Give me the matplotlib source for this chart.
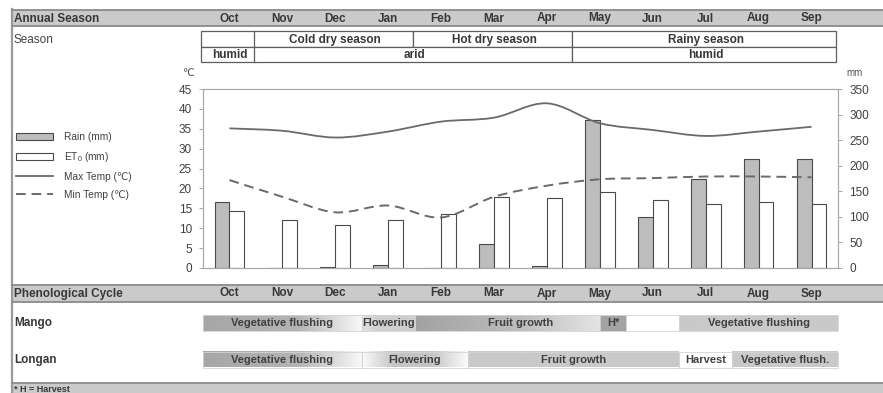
import numpy as np
import matplotlib
matplotlib.use('Agg')
import matplotlib.pyplot as plt
from matplotlib.patches import Rectangle, PathPatch, Patch
from matplotlib.path import Path
from matplotlib.lines import Line2D
from matplotlib.colors import LinearSegmentedColormap

plt.rcParams['font.family'] = ['Liberation Sans', 'DejaVu Sans']
plt.rcParams['mathtext.fontset'] = 'custom'
plt.rcParams['mathtext.rm'] = 'Liberation Sans'
plt.rcParams['mathtext.it'] = 'Liberation Sans:italic'

# data
months = ['Oct', 'Nov', 'Dec', 'Jan', 'Feb', 'Mar', 'Apr', 'May', 'Jun', 'Jul', 'Aug', 'Sep']
rain_mm = [130, 0.5, 2, 6, 0.5, 47, 4, 289, 100, 175, 214, 214]
et0_mm = [112, 94, 85, 94, 106, 139, 137, 149, 133, 126, 130, 125]
tmax = [35.1, 34.5, 32.8, 34.3, 36.8, 37.8, 41.4, 36.4, 34.7, 33.2, 34.3, 35.5]
tmin = [22.1, 17.9, 14.0, 15.7, 12.7, 17.9, 20.7, 22.3, 22.6, 23.0, 23.0, 22.8]

season_row1 = ['', 'Cold dry season', 'Hot dry season', 'Rainy season']
season_row1_edges = [0, 1, 4, 7, 12]
season_row2 = ['humid', 'arid', 'humid']
season_row2_edges = [0, 1, 7, 12]

# phenology phases, start/end in months counted from start of Oct
mango_labels = ['Vegetative flushing', 'Flowering', 'Fruit growth', 'H*', '', 'Vegetative flushing']
mango_start = [0, 3, 4, 7.5, 8, 9]
mango_end = [3, 4, 8, 8, 9, 12]
longan_labels = ['Vegetative flushing', 'Flowering', 'Fruit growth', 'Harvest', 'Vegetative flush.']
longan_start = [0, 3, 5, 9, 10]
longan_end = [3, 5, 9, 10, 12]

# ---- styles ----
W, H = 883, 393
PX = 635 / 12          # pixels per month
X0 = 203               # pixel of plot left edge
txt = '#383838'
band = '#cacaca'
band_edge = '#8a8a8a'

fills = {
    'fade': LinearSegmentedColormap.from_list('fade', [(0, '#a6a6a6'), (0.6, '#b4b4b4'), (1, '#f8f8f8')]),
    'fruit': LinearSegmentedColormap.from_list('fruit', [(0, '#a2a2a2'), (0.5, '#bdbdbd'), (1, '#f2f2f2')]),
    'flower_m': LinearSegmentedColormap.from_list('fm', [(0, '#e2e2e2'), (0.3, '#d0d0d0'), (1, '#cecece')]),
    'flower_l': LinearSegmentedColormap.from_list('fl', [(0, '#fbfbfb'), (0.3, '#c4c4c4'), (0.65, '#c4c4c4'), (1, '#fbfbfb')]),
    'harvest': LinearSegmentedColormap.from_list('h', ['#a3a3a3', '#a3a3a3']),
    'white': LinearSegmentedColormap.from_list('w', ['#ffffff', '#ffffff']),
    'flat': LinearSegmentedColormap.from_list('f', ['#c9c9c9', '#c9c9c9']),
}
mango_fill = ['fade', 'flower_m', 'fruit', 'harvest', 'white', 'flat']
longan_fill = ['fade', 'flower_l', 'flat', 'white', 'flat']


def smooth_path(xs, ys):
    pts = np.column_stack([xs, ys]).astype(float)
    p = np.vstack([pts[0], pts, pts[-1]])
    verts = [pts[0]]
    codes = [Path.MOVETO]
    for i in range(1, len(p) - 2):
        c1 = p[i] + (p[i + 1] - p[i - 1]) / 6
        c2 = p[i + 1] - (p[i + 2] - p[i]) / 6
        verts += [c1, c2, p[i + 1]]
        codes += [Path.CURVE4] * 3
    return Path(verts, codes)


fig = plt.figure(figsize=(W / 100, H / 100), dpi=100)

# background layer: x in months, y in pixels from the top
bg = fig.add_axes([0, 0, 1, 1])
bg.axis('off')
yx = bg.get_yaxis_transform()
fx = lambda px: px / W

# frame line on the left
bg.add_line(Line2D([fx(12), fx(12)], [9, 393], transform=yx, color='#9a9a9a', lw=1.6))

# gray bands
for y0, y1 in [(10, 26), (285, 301.5)]:
    bg.add_patch(Rectangle((fx(12), y0), 1, y1 - y0, transform=yx, fc=band, ec='none'))
    bg.add_line(Line2D([fx(12), 1], [y0, y0], transform=yx, color=band_edge, lw=1.3))
    bg.add_line(Line2D([fx(12), 1], [y1, y1], transform=yx, color=band_edge, lw=1.3))
bg.add_patch(Rectangle((fx(12), 383), 1, 10, transform=yx, fc=band, ec='none'))
bg.add_line(Line2D([fx(12), 1], [383, 383], transform=yx, color=band_edge, lw=1.3))

bg.text(fx(14), 18.5, 'Annual Season', transform=yx, fontsize=8.5, fontweight='bold', color=txt, va='center')
bg.text(fx(14), 293.5, 'Phenological Cycle', transform=yx, fontsize=8.5, fontweight='bold', color=txt, va='center')
bg.text(fx(14), 389, '* H = Harvest', transform=yx, fontsize=6.5, fontweight='bold', color=txt, va='center')
for i, m in enumerate(months):
    bg.text(i + 0.5, 18.5, m, fontsize=8.5, fontweight='bold', color=txt, ha='center', va='center')
    bg.text(i + 0.5, 293.5, m, fontsize=8.5, fontweight='bold', color=txt, ha='center', va='center')

# season table
bg.text(fx(14), 40, 'Season', transform=yx, fontsize=8.5, color='#444444', va='center')
tcol = '#5e5e5e'
for labels, edges, y0, y1 in [(season_row1, season_row1_edges, 31, 47), (season_row2, season_row2_edges, 47, 62)]:
    for lab, a, b in zip(labels, edges[:-1], edges[1:]):
        bg.add_patch(Rectangle((a - 0.03, y0), b - a + 0.03 if a == 0 else b - a, y1 - y0,
                               fc='white', ec=tcol, lw=0.9))
        bg.text((a + b) / 2, (y0 + y1) / 2 + 0.5, lab, fontsize=8.5, fontweight='bold',
                color=txt, ha='center', va='center')

bg.text(fx(188), 73, '℃', transform=yx, fontsize=7.5, color='#444444', ha='center', va='center')
bg.text(fx(855), 72.5, 'mm', transform=yx, fontsize=7, color='#555555', ha='center', va='center')

# phenology bars
grad = np.linspace(0, 1, 256)[None, :]
for name, labels, starts, ends, fl, y0, y1 in [
        ('Mango', mango_labels, mango_start, mango_end, mango_fill, 315, 331),
        ('Longan', longan_labels, longan_start, longan_end, longan_fill, 352, 367.5)]:
    bg.text(fx(14), (y0 + y1) / 2, name, transform=yx, fontsize=8.5, fontweight='bold', color=txt, va='center')
    for lab, a, b, f in zip(labels, starts, ends, fl):
        bg.imshow(grad, cmap=fills[f], extent=(a, b, y1, y0), aspect='auto', interpolation='bilinear')
        bg.add_patch(Rectangle((a, y0), b - a, y1 - y0, fill=False, ec='#d4d4d4', lw=0.6))
        if lab:
            bg.text((a + b) / 2, (y0 + y1) / 2 + 0.5, lab, fontsize=8, fontweight='bold',
                    color='#404040', ha='center', va='center')

bg.set_xlim(-X0 / PX, (W - X0) / PX)
bg.set_ylim(H, 0)

# main chart
ax = fig.add_axes([X0 / W, (H - 268) / H, 635 / W, 179 / H])
ax2 = ax.twinx()
x = np.arange(len(months)) + 0.5
bw = 0.28
ax2.bar(x - bw / 2, rain_mm, bw, color='#bdbdbd', edgecolor='#4a4a4a', linewidth=0.8)
ax2.bar(x + bw / 2, et0_mm, bw, color='white', edgecolor='#4a4a4a', linewidth=0.8)
ax2.set_ylim(0, 350)
ax2.set_yticks(range(0, 351, 50))

ax.add_patch(PathPatch(smooth_path(x, tmax), fill=False, ec='#6a6a6a', lw=1.3))
ax.add_patch(PathPatch(smooth_path(x, tmin), fill=False, ec='#6a6a6a', lw=1.4, ls=(0, (5, 3))))
ax.set_ylim(0, 45)
ax.set_yticks(range(0, 46, 5))
ax.set_xlim(0, 12)
ax.set_xticks([])
ax.set_zorder(ax2.get_zorder() + 1)
ax.patch.set_visible(False)

for a in (ax, ax2):
    for s in a.spines.values():
        s.set_color('#a8a8a8')
        s.set_linewidth(0.8)
    a.tick_params(axis='y', length=3, width=0.7, color='#a8a8a8', labelsize=8.5,
                  labelcolor='#404040', pad=5)

handles = [Patch(fc='#bdbdbd', ec='#4a4a4a', lw=0.8),
           Patch(fc='white', ec='#4a4a4a', lw=0.8),
           Line2D([], [], color='#6a6a6a', lw=1.3),
           Line2D([], [], color='#6a6a6a', lw=1.4, ls=(0, (5, 3)))]
fig.legend(handles, ['Rain (mm)', 'ET$_0$ (mm)', 'Max Temp (℃)', 'Min Temp (℃)'],
           loc='upper left', bbox_to_anchor=(16 / W, 1 - 132 / H), frameon=False,
           fontsize=7.3, handlelength=3.6, handleheight=0.75, handletextpad=1.1,
           labelspacing=0.78, borderpad=0, borderaxespad=0, labelcolor='#404040')

fig.savefig('out.png', dpi=100)
